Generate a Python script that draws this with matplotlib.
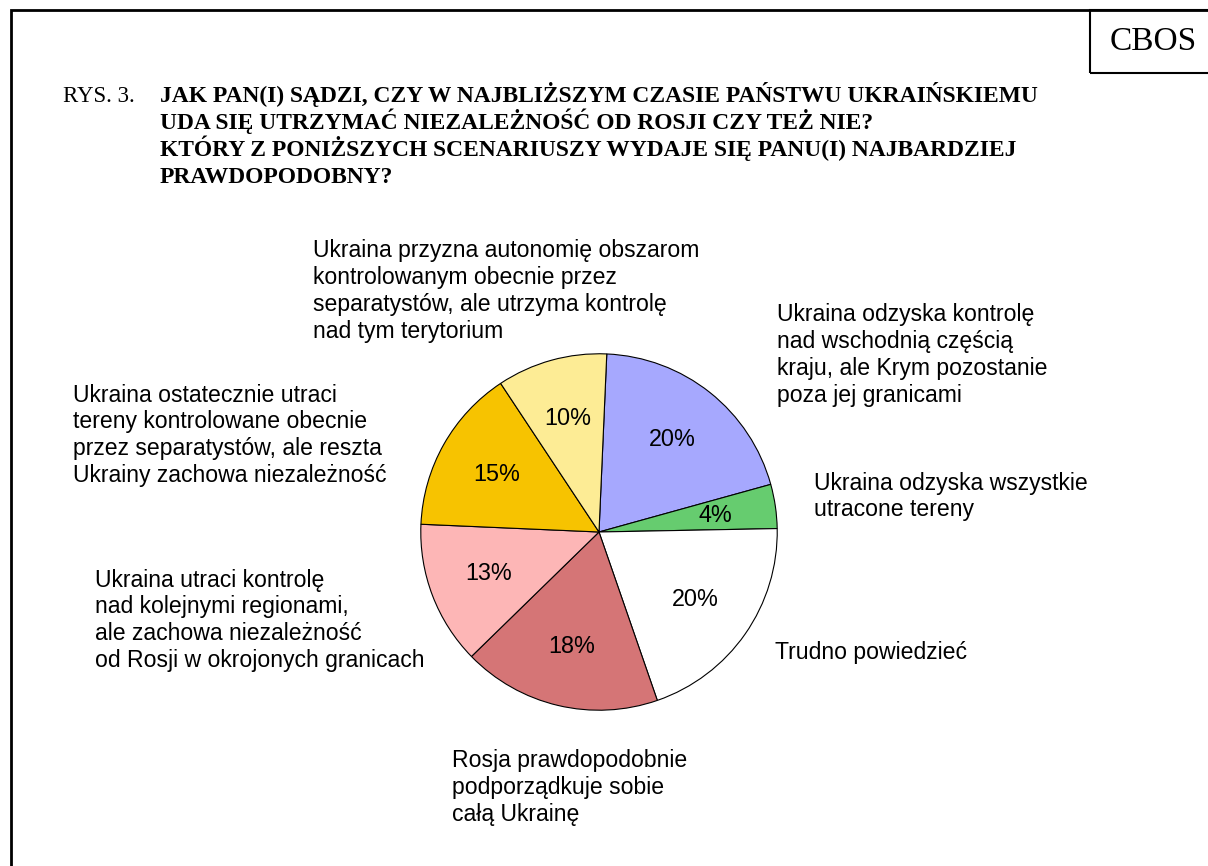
import matplotlib.pyplot as plt
from matplotlib.patches import Rectangle

W, H = 1208, 866

shares = [20, 4, 20, 18, 13, 15, 10]
pct_labels = ["20%", "4%", "20%", "18%", "13%", "15%", "10%"]
colors = ["#a6a8fe", "#66cc6f", "#ffffff", "#d57576", "#fdb6b6", "#f7c300", "#fdec95"]
answers = [
    "Ukraina odzyska kontrolę\nnad wschodnią częścią\nkraju, ale Krym pozostanie\npoza jej granicami",
    "Ukraina odzyska wszystkie\nutracone tereny",
    "Trudno powiedzieć",
    "Rosja prawdopodobnie\npodporządkuje sobie\ncałą Ukrainę",
    "Ukraina utraci kontrolę\nnad kolejnymi regionami,\nale zachowa niezależność\nod Rosji w okrojonych granicach",
    "Ukraina ostatecznie utraci\ntereny kontrolowane obecnie\nprzez separatystów, ale reszta\nUkrainy zachowa niezależność",
    "Ukraina przyzna autonomię obszarom\nkontrolowanym obecnie przez\nseparatystów, ale utrzyma kontrolę\nnad tym terytorium",
]
# left edge and first baseline of each answer, in pixels
answer_pos = [(777, 321.5), (814, 489.5), (775, 659.5), (452, 767.5),
              (95, 586.5), (73, 401.5), (313, 257.5)]

title_lines = [
    "JAK PAN(I) SĄDZI, CZY W NAJBLIŻSZYM CZASIE PAŃSTWU UKRAIŃSKIEMU",
    "UDA SIĘ UTRZYMAĆ NIEZALEŻNOŚĆ OD ROSJI CZY TEŻ NIE?",
    "KTÓRY Z PONIŻSZYCH SCENARIUSZY WYDAJE SIĘ PANU(I) NAJBARDZIEJ",
    "PRAWDOPODOBNY?",
]


def fx(x):
    return x / W


def fy(y):
    return 1 - y / H


fig = plt.figure(figsize=(W / 100, H / 100), dpi=100)
fig.patch.set_facecolor("white")

# outer frame and the CBOS box
fig.add_artist(Rectangle((fx(11), fy(H + 20)), fx(W + 20), (H + 10) / H,
                         transform=fig.transFigure, fill=False, lw=2, ec="black"))
fig.add_artist(Rectangle((fx(1090), fy(73)), fx(200), 63 / H,
                         transform=fig.transFigure, fill=False, lw=1.5, ec="black"))
fig.text(fx(1153), fy(42), "CBOS", family="Liberation Serif", fontsize=24,
         ha="center", va="center")

fig.text(fx(63), fy(102), "RYS. 3.", family="Liberation Serif", fontsize=16.5, va="baseline")
for i, line in enumerate(title_lines):
    fig.text(fx(160), fy(102 + i * 26.9), line, family="Liberation Serif",
             fontsize=16.9, fontweight="bold", va="baseline")

cx, cy, r = 599, 532, 180
ax = fig.add_axes([fx(cx - r), fy(cy + r), 2 * r / W, 2 * r / H])
wedges, texts = ax.pie(shares, colors=colors, startangle=87.5, counterclock=False,
                       wedgeprops=dict(edgecolor="black", linewidth=0.8),
                       labels=pct_labels, labeldistance=0.66,
                       textprops=dict(family="Liberation Sans", fontsize=16.8,
                                      ha="center", va="center"))
ax.set_xlim(-1.01, 1.01)
ax.set_ylim(-1.01, 1.01)
ax.set_aspect("equal")
ax.axis("off")

# one text per line so the spacing is the same for every label
for txt, (x, y) in zip(answers, answer_pos):
    for i, line in enumerate(txt.split("\n")):
        fig.text(fx(x), fy(y + i * 26.7), line, family="Liberation Sans",
                 fontsize=16.6, ha="left", va="baseline")

fig.savefig("out.png", dpi=100)
